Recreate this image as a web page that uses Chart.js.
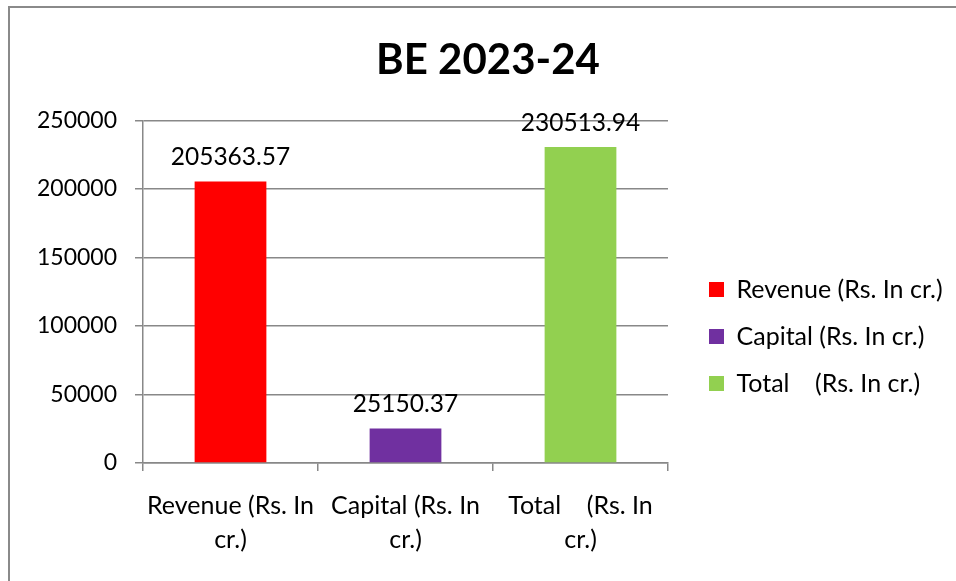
<!DOCTYPE html>
<html>
<head>
    <title>BE 2023-24</title>
    <script src="https://cdn.jsdelivr.net/npm/chart.js"></script>
    <style>
        body { margin: 0; background: #fff; }
        #wrap {
            position: absolute;
            left: 8px;
            top: 6px;
            width: 946px;
            height: 573px;
            border-left: 2px solid #8a8a8a;
            border-top: 2px solid #8a8a8a;
        }
    </style>
</head>
<body>
    <div id="wrap"><canvas id="beChart"></canvas></div>

    <script>
        const categories = [["Revenue (Rs. In", "cr.)"], ["Capital (Rs. In", "cr.)"], ["Total    (Rs. In", "cr.)"]];
        const legendNames = ["Revenue (Rs. In cr.)", "Capital (Rs. In cr.)", "Total    (Rs. In cr.)"];
        const values = [205363.57, 25150.37, 230513.94];
        const valueLabels = ["205363.57", "25150.37", "230513.94"];
        const barColors = ["#FF0000", "#7030A0", "#92D050"];
        const yMin = 0, yMax = 250000, yStep = 50000;

        const FONT = "Lato, 'Open Sans', sans-serif";
        const gridColor = "#888888";

        // 막대 위 값 표시
        const valueLabelPlugin = {
            id: 'valueLabels',
            afterDatasetsDraw(chart) {
                const ctx = chart.ctx;
                const meta = chart.getDatasetMeta(0);
                ctx.save();
                ctx.font = "24.5px " + FONT;
                ctx.fillStyle = "#000";
                ctx.textAlign = "center";
                ctx.textBaseline = "middle";
                meta.data.forEach((bar, i) => {
                    ctx.fillText(valueLabels[i], bar.x, bar.y - 24);
                });
                ctx.restore();
            }
        };

        // 범례 위치 조정
        const legendPlace = {
            id: 'legendPlace',
            beforeLayout(chart) {
                const lg = chart.legend;
                if (lg && !lg._fixed) {
                    const fit = lg.fit.bind(lg);
                    lg.fit = function () { fit(); this.width = 288; };
                    lg._fixed = true;
                }
            },
            afterLayout(chart) {
                const lg = chart.legend;
                lg.left += 19; lg.right += 19;
                lg.top += 42; lg.bottom += 42;
            }
        };

        new Chart(document.getElementById('beChart'), {
            type: 'bar',
            data: {
                labels: categories,
                datasets: [{
                    data: values,
                    backgroundColor: barColors,
                    borderWidth: 0,
                    barPercentage: 0.41,
                    categoryPercentage: 1
                }]
            },
            options: {
                responsive: true,
                maintainAspectRatio: false,
                animation: false,
                events: [],
                layout: { padding: { left: 10, right: 0, top: 0, bottom: 0 } },
                scales: {
                    x: {
                        grid: {
                            drawOnChartArea: false,
                            drawTicks: true,
                            tickLength: 8,
                            color: gridColor,
                            lineWidth: 1.5
                        },
                        border: { color: gridColor, width: 1.5 },
                        ticks: {
                            color: "#000",
                            font: { family: FONT, size: 25, lineHeight: 1.36 },
                            padding: 18,
                            maxRotation: 0,
                            autoSkip: false
                        },
                        afterFit(scale) { scale.height = 118; }
                    },
                    y: {
                        min: yMin,
                        max: yMax,
                        grid: {
                            color: gridColor,
                            lineWidth: 1.5,
                            tickLength: 8
                        },
                        border: { color: gridColor, width: 1.5 },
                        ticks: {
                            stepSize: yStep,
                            color: "#000",
                            font: { family: FONT, size: 23 },
                            padding: 18,
                            callback: (v) => String(v)
                        },
                        afterFit(scale) { scale.width = 123; }
                    }
                },
                plugins: {
                    title: {
                        display: true,
                        text: 'BE 2023-24',
                        color: '#000',
                        font: { family: FONT, size: 42, weight: 'bold', lineHeight: 1.2 },
                        padding: { top: 27, bottom: 35 }
                    },
                    legend: {
                        position: 'right',
                        align: 'center',
                        labels: {
                            color: '#000',
                            font: { family: FONT, size: 25 },
                            boxWidth: 15,
                            boxHeight: 15,
                            padding: 22,
                            generateLabels() {
                                return legendNames.map((name, i) => ({
                                    text: name,
                                    fillStyle: barColors[i],
                                    strokeStyle: barColors[i],
                                    lineWidth: 0,
                                    hidden: false,
                                    index: i
                                }));
                            }
                        }
                    },
                    tooltip: { enabled: false }
                }
            },
            plugins: [valueLabelPlugin, legendPlace]
        });
    </script>
</body>
</html>
